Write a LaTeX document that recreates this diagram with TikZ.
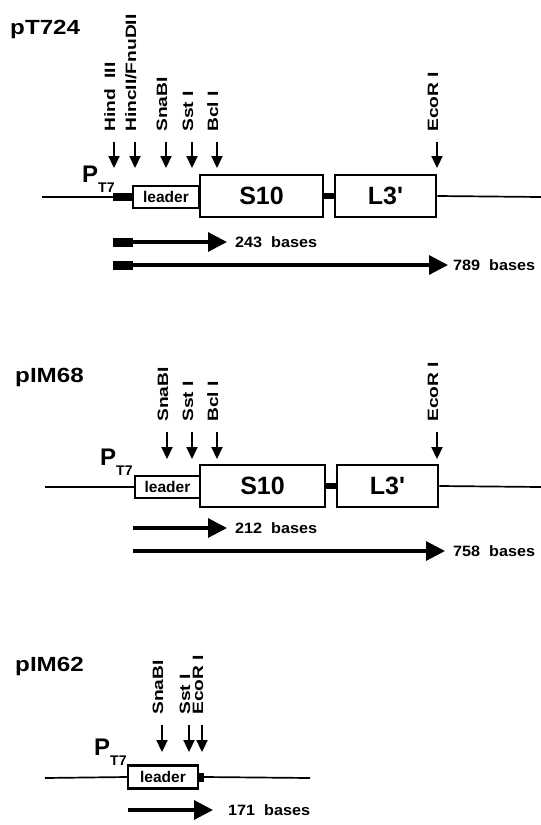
\documentclass[tikz,border=0pt]{standalone}
\usepackage{fontspec}
\setmainfont{Liberation Sans}
\usetikzlibrary{arrows.meta, positioning, calc}

\begin{document}
\begin{tikzpicture}[x=1pt, y=-1pt,
    dna/.style={line width=1.7pt},
    link/.style={line width=6pt},
    gene/.style={draw, line width=2.8pt, fill=white, minimum height=42, inner sep=0, font=\fontsize{25}{28}\selectfont\bfseries},
    leaderbox/.style={draw, line width=2.2pt, fill=white, minimum width=66, minimum height=22, inner sep=0, font=\fontsize{15.5}{17}\selectfont\bfseries},
    blk/.style={fill=black, inner sep=0, minimum width=20, minimum height=8},
    site/.style={rotate=90, anchor=base west, inner sep=0, xscale=1.28, font=\fontsize{15}{17}\selectfont\bfseries},
    cut/.style={line width=2.2pt, -{Triangle[length=12pt, width=11pt]}, shorten <=10pt},
    tx/.style={line width=3.2pt, -{Triangle[length=19pt, width=19pt]}},
    len/.style={anchor=west, inner sep=0, xscale=1.08, font=\fontsize{15}{17}\selectfont\bfseries},
    plasmid/.style={anchor=base west, inner sep=0, xscale=1.18, font=\fontsize{20.5}{24}\selectfont\bfseries},
    prom/.style={anchor=base west, inner sep=0, font=\fontsize{24}{28}\selectfont\bfseries}
  ]
  \useasboundingbox (0,0) rectangle (541,825);

  % pT724
  \node[plasmid] (p1) at (10,34) {pT724};
  \node[prom] (pt1) at (82,182) {P\raisebox{-10pt}{\fontsize{14}{15}\selectfont T7}};
  \node[blk] (pro1) at (123,197) {};
  \node[leaderbox] (lead1) at (166,197) {leader};
  \node[gene, minimum width=123] (s10a) at (261.5,196) {S10};
  \node[gene, minimum width=101] (l3a) at (385.5,196) {L3\textquotesingle};
  \coordinate (l1) at (42,197);
  \coordinate (r1) at (541,197);
  \draw[dna] (l1) -- (pro1.west);
  \draw[dna] (l3a.east) -- (r1);
  \draw[link] (s10a.east) -- (l3a.west);
  \foreach \x/\lab [count=\i] in {114/{Hind\ \ III}, 135/{HincII/FnuDII}, 166/SnaBI, 192/{Sst I}, 217/{Bcl I}, 437/{EcoR I}} {
    \coordinate (a1-\i) at (\x,168);
    \node[site] (s1-\i) at (\x+1,132) {\lab};
    \draw[cut] (s1-\i.base west -| a1-\i) -- (a1-\i);
  }
  \node[blk, minimum height=9] (b243) at (123,242) {};
  \coordinate (e243) at (227,242);
  \draw[tx] (b243.east) -- (e243);
  \node[len, right=8pt of e243] (n243) {243\ \ bases};
  \node[blk, minimum height=9] (b789) at (123,265) {};
  \coordinate (e789) at (448,265);
  \draw[tx] (b789.east) -- (e789);
  \node[len, right=5pt of e789] (n789) {789\ \ bases};

  % pIM68
  \node[plasmid] (p2) at (15,382) {pIM68};
  \node[prom] (pt2) at (100,465) {P\raisebox{-10pt}{\fontsize{14}{15}\selectfont T7}};
  \node[leaderbox, minimum width=65] (lead2) at (167.5,487) {leader};
  \node[gene, minimum width=125] (s10b) at (262.5,486) {S10};
  \node[gene, minimum width=101] (l3b) at (387.5,486) {L3\textquotesingle};
  \coordinate (l2) at (45,487);
  \coordinate (r2) at (541,487);
  \draw[dna] (l2) -- (lead2.west);
  \draw[dna] (l3b.east) -- (r2);
  \draw[link] (s10b.east) -- (l3b.west);
  \foreach \x/\lab [count=\i] in {167/SnaBI, 192/{Sst I}, 217/{Bcl I}, 437/{EcoR I}} {
    \coordinate (a2-\i) at (\x,459);
    \node[site] (s2-\i) at (\x+1,422) {\lab};
    \draw[cut] (s2-\i.base west -| a2-\i) -- (a2-\i);
  }
  \coordinate (b212) at (133,528);
  \coordinate (e212) at (227,528);
  \draw[tx] (b212) -- (e212);
  \node[len, right=8pt of e212] (n212) {212\ \ bases};
  \coordinate (b758) at (133,551);
  \coordinate (e758) at (445,551);
  \draw[tx] (b758) -- (e758);
  \node[len, right=8pt of e758] (n758) {758\ \ bases};

  % pIM62
  \node[plasmid] (p3) at (15,671) {pIM62};
  \node[prom] (pt3) at (94,755) {P\raisebox{-10pt}{\fontsize{14}{15}\selectfont T7}};
  \node[leaderbox, minimum width=70, minimum height=23] (lead3) at (163,777) {leader};
  \node[blk, minimum width=6, minimum height=9] (pro3) at (201,777) {};
  \coordinate (l3) at (45,778);
  \coordinate (r3) at (310,778);
  \draw[dna] (l3) -- (lead3.west);
  \draw[dna] (pro3.east) -- (r3);
  \foreach \x/\lab [count=\i] in {162/SnaBI, 189/{Sst I}, 202/{EcoR I}} {
    \coordinate (a3-\i) at (\x,752);
    \node[site] (s3-\i) at (\x+1,715) {\lab};
    \draw[cut] (s3-\i.base west -| a3-\i) -- (a3-\i);
  }
  \coordinate (b171) at (128,810);
  \coordinate (e171) at (213,810);
  \draw[tx] (b171) -- (e171);
  \node[len, right=15pt of e171] (n171) {171\ \ bases};
\end{tikzpicture}
\end{document}
